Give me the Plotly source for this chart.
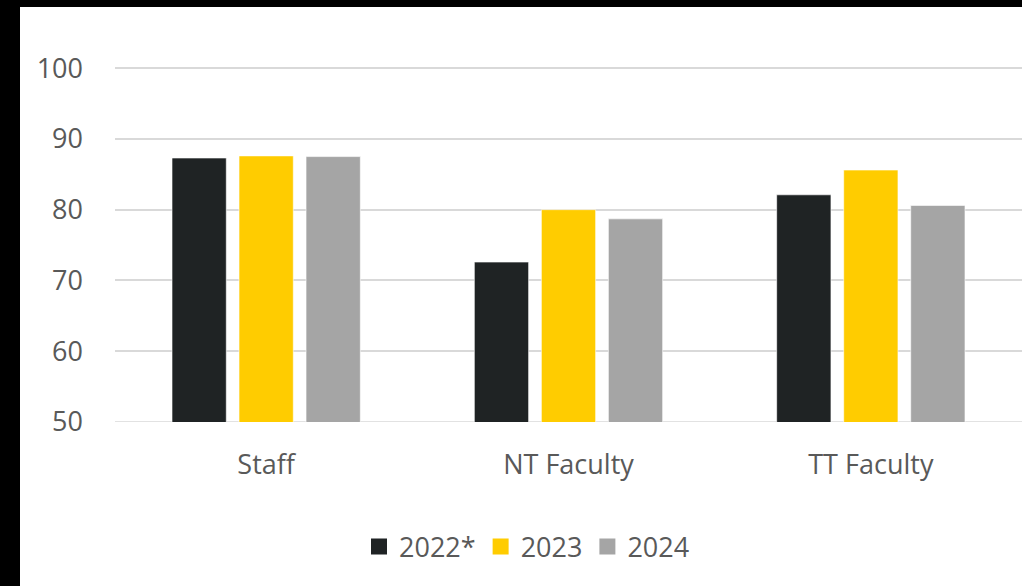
import plotly.graph_objects as go

categories = ["Staff", "NT Faculty", "TT Faculty"]
years = ["2022*", "2023", "2024"]
scores_2022 = [87.3, 72.6, 82.1]
scores_2023 = [87.6, 80.0, 85.6]
scores_2024 = [87.5, 78.7, 80.6]
y_ticks = [50, 60, 70, 80, 90, 100]

colors = ["#1f2324", "#ffcc00", "#a5a5a5"]
series = [scores_2022, scores_2023, scores_2024]

W, H = 1022, 586
ML, MR, MT, MB = 115, 0, 66, 164
PW, PH = W - ML - MR, H - MT - MB
Y_TOP = 100.3

fig = go.Figure()
for name, vals, col in zip(years, series, colors):
    fig.add_trace(go.Bar(
        x=categories, y=vals, name=name, showlegend=False,
        marker=dict(color=col, line=dict(color="rgba(255,255,255,0.6)", width=1)),
        base=0,
    ))
# legend entries drawn as large square markers
for name, col in zip(years, colors):
    fig.add_trace(go.Scatter(
        x=[None], y=[None], mode="markers", name=name,
        marker=dict(symbol="square", size=19, color=col),
    ))

font = dict(family="Open Sans, Liberation Sans, sans-serif", color="#595959", size=27)

fig.update_layout(
    width=W, height=H,
    margin=dict(l=ML, r=MR, t=MT, b=MB, pad=0),
    paper_bgcolor="white", plot_bgcolor="white",
    barmode="group", bargap=0.335, bargroupgap=0.19,
    font=font,
    showlegend=True,
    legend=dict(orientation="h", x=(527 - ML) / PW, xanchor="center",
                y=-(547 - MT - PH) / PH, yanchor="middle",
                font=dict(size=27, color="#595959"), itemwidth=30,
                traceorder="normal", bgcolor="rgba(0,0,0,0)"),
    xaxis=dict(showgrid=False, showline=False, ticks="", tickfont=font,
               ticklabelstandoff=24),
    yaxis=dict(range=[50, Y_TOP], tickvals=y_ticks, showgrid=True,
               gridcolor="#d9d9d9", gridwidth=1.5, zeroline=False,
               showline=False, ticks="", tickfont=font, ticklabelstandoff=31),
    shapes=[
        # baseline at 50
        dict(type="line", xref="paper", yref="y", x0=0, x1=1, y0=50, y1=50,
             line=dict(color="#d9d9d9", width=1.5), layer="below"),
        # black frame strips on the left and top edges
        dict(type="rect", xref="paper", yref="paper",
             x0=-ML / PW, x1=(20 - ML) / PW, y0=-MB / PH, y1=(PH + MT) / PH,
             fillcolor="black", line=dict(width=0)),
        dict(type="rect", xref="paper", yref="paper",
             x0=-ML / PW, x1=1.01, y0=(PH + MT - 7) / PH, y1=(PH + MT) / PH,
             fillcolor="black", line=dict(width=0)),
    ],
)

fig.write_html("out.html")
